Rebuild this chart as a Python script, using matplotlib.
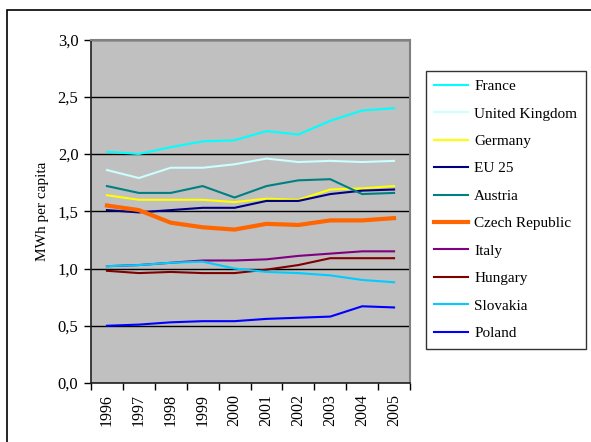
import numpy as np
import matplotlib
matplotlib.use("Agg")
import matplotlib.pyplot as plt
from matplotlib.patches import Rectangle
from matplotlib.ticker import FixedLocator, FuncFormatter

years = ["1996", "1997", "1998", "1999", "2000", "2001", "2002", "2003", "2004", "2005"]

france   = [2.02, 2.00, 2.06, 2.11, 2.12, 2.20, 2.17, 2.29, 2.38, 2.40]
uk       = [1.86, 1.79, 1.88, 1.88, 1.91, 1.96, 1.93, 1.94, 1.93, 1.94]
germany  = [1.64, 1.60, 1.60, 1.60, 1.58, 1.61, 1.60, 1.69, 1.70, 1.72]
eu25     = [1.51, 1.49, 1.51, 1.53, 1.53, 1.59, 1.59, 1.65, 1.68, 1.69]
austria  = [1.72, 1.66, 1.66, 1.72, 1.62, 1.72, 1.77, 1.78, 1.65, 1.66]
czech    = [1.55, 1.51, 1.40, 1.36, 1.34, 1.39, 1.38, 1.42, 1.42, 1.44]
italy    = [1.02, 1.03, 1.05, 1.07, 1.07, 1.08, 1.11, 1.13, 1.15, 1.15]
hungary  = [0.98, 0.96, 0.97, 0.96, 0.96, 0.99, 1.03, 1.09, 1.09, 1.09]
slovakia = [1.02, 1.03, 1.05, 1.06, 1.00, 0.97, 0.96, 0.94, 0.90, 0.88]
poland   = [0.50, 0.51, 0.53, 0.54, 0.54, 0.56, 0.57, 0.58, 0.67, 0.66]

series = [
    ("France", france, "#00FFFF", 1.5),
    ("United Kingdom", uk, "#CCFFFF", 1.5),
    ("Germany", germany, "#FFFF00", 1.5),
    ("EU 25", eu25, "#000080", 1.5),
    ("Austria", austria, "#008080", 1.5),
    ("Czech Republic", czech, "#FF6600", 3.0),
    ("Italy", italy, "#800080", 1.5),
    ("Hungary", hungary, "#800000", 1.5),
    ("Slovakia", slovakia, "#00CCFF", 1.5),
    ("Poland", poland, "#0000FF", 1.5),
]

plt.rcParams["font.family"] = ["Liberation Serif", "DejaVu Serif"]

W, H = 591, 442
fig = plt.figure(figsize=(W / 100, H / 100), dpi=100)
ax = fig.add_axes([91 / W, 59 / H, 319 / W, 343.5 / H])
ax.set_facecolor("#C0C0C0")

x = np.arange(len(years))
lines = []
for name, vals, col, lw in series:
    ln, = ax.plot(x, vals, color=col, linewidth=lw, label=name)
    lines.append(ln)

ax.set_xlim(-0.5, len(years) - 0.5)
ax.set_ylim(0, 3.0)
ax.set_yticks(np.arange(0, 3.01, 0.5))
ax.yaxis.set_major_formatter(FuncFormatter(lambda v, p: f"{v:.1f}".replace(".", ",")))
ax.grid(axis="y", color="black", linewidth=1)
ax.set_axisbelow(True)

ax.set_xticks(x)
ax.set_xticklabels(years, rotation=90)
ax.xaxis.set_minor_locator(FixedLocator(np.arange(-0.5, len(years), 1.0)))
ax.tick_params(axis="x", which="major", length=0, pad=8, labelsize=11.5)
ax.tick_params(axis="x", which="minor", length=5, width=1, direction="out")
ax.tick_params(axis="y", length=5, width=1, direction="out", labelsize=12, pad=4)

for s in ["top", "right"]:
    ax.spines[s].set_color("#808080")
    ax.spines[s].set_linewidth(1.5)
for s in ["left", "bottom"]:
    ax.spines[s].set_color("#202020")
    ax.spines[s].set_linewidth(1.2)

ax.set_ylabel("MWh per capita", fontsize=11, labelpad=6)

leg = fig.legend(handles=lines, loc="upper left",
                 bbox_to_anchor=(426 / W, 1 - 71 / H), borderaxespad=0,
                 frameon=True, fancybox=False, edgecolor="black",
                 fontsize=11, labelspacing=0.9, handlelength=2.2,
                 handletextpad=0.4, borderpad=0.55)
leg.get_frame().set_linewidth(1.0)

# outer chart frame (cut off at right and bottom in the original)
fig.patches.append(Rectangle((7 / W, -0.1), 1.2, 1 - 10 / H + 0.1,
                             transform=fig.transFigure, fill=False,
                             edgecolor="black", linewidth=1.2))

fig.savefig("out.png", dpi=100)
